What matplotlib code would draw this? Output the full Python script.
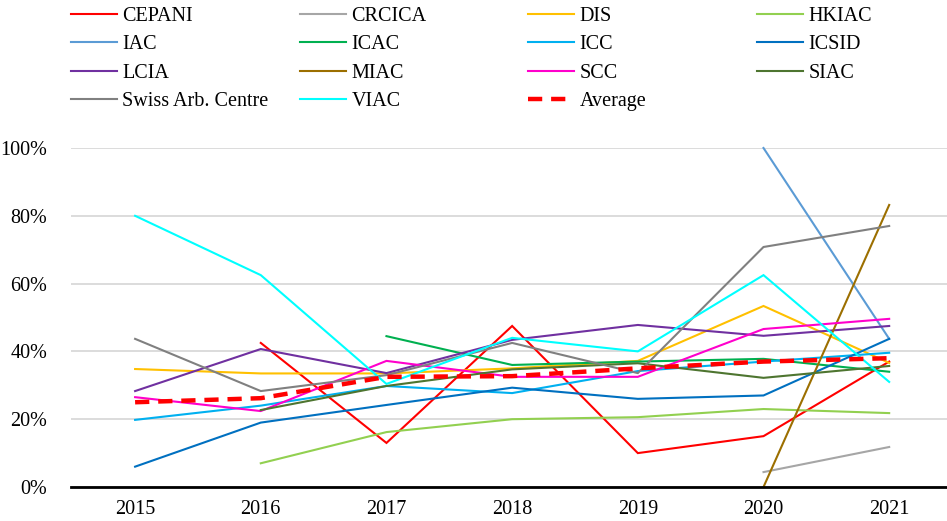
import numpy as np
import matplotlib
matplotlib.use("Agg")
import matplotlib.pyplot as plt
from matplotlib.ticker import PercentFormatter

nan = np.nan

# years on the x axis
years = [2015, 2016, 2017, 2018, 2019, 2020, 2021]

# share per institution (fraction)
cepani = [nan, 0.425, 0.13, 0.475, 0.10, 0.15, 0.37]
crcica = [nan, nan, nan, nan, nan, 0.044, 0.118]
dis = [0.348, 0.335, 0.335, 0.35, 0.372, 0.534, 0.366]
hkiac = [nan, 0.07, 0.162, 0.20, 0.206, 0.23, 0.218]
iac = [nan, nan, nan, nan, nan, 1.00, 0.437]
icac = [nan, nan, 0.445, 0.36, 0.37, 0.378, 0.34]
icc = [0.198, 0.24, 0.298, 0.277, 0.342, 0.37, 0.396]
icsid = [0.06, 0.19, 0.242, 0.293, 0.26, 0.27, 0.437]
lcia = [0.283, 0.407, 0.336, 0.434, 0.478, 0.446, 0.475]
miac = [nan, nan, nan, nan, nan, 0.0, 0.832]
scc = [0.265, 0.224, 0.372, 0.325, 0.325, 0.466, 0.496]
siac = [nan, 0.227, 0.298, 0.347, 0.365, 0.322, 0.357]
swiss = [0.437, 0.283, 0.33, 0.425, 0.336, 0.708, 0.77]
viac = [0.80, 0.625, 0.304, 0.44, 0.40, 0.625, 0.31]
average = [0.25, 0.262, 0.325, 0.327, 0.35, 0.37, 0.38]

series = [
    ("CEPANI", cepani, "#FF0000"),
    ("CRCICA", crcica, "#A6A6A6"),
    ("DIS", dis, "#FFC000"),
    ("HKIAC", hkiac, "#92D050"),
    ("IAC", iac, "#5B9BD5"),
    ("ICAC", icac, "#00B050"),
    ("ICC", icc, "#00B0F0"),
    ("ICSID", icsid, "#0070C0"),
    ("LCIA", lcia, "#7030A0"),
    ("MIAC", miac, "#9C6F00"),
    ("SCC", scc, "#FF00CC"),
    ("SIAC", siac, "#4E7530"),
    ("Swiss Arb. Centre", swiss, "#808080"),
    ("VIAC", viac, "#00FFFF"),
]

plt.rcParams['font.family'] = ['Liberation Serif', 'DejaVu Serif']
plt.rcParams['font.size'] = 14.5

W, H = 947, 521
fig = plt.figure(figsize=(W / 100, H / 100), dpi=100)
ax = fig.add_axes([71 / W, (H - 487) / H, (W - 71) / W, (487 - 148) / H])

handles = []
for name, vals, col in series:
    ln, = ax.plot(years, vals, color=col, lw=1.5, label=name, clip_on=False,
                  solid_joinstyle='miter')
    handles.append(ln)
avg, = ax.plot(years, average, color="#FF0000", lw=3.2, dashes=(3.2, 2.0),
               label="Average", zorder=5, clip_on=False)
handles.append(avg)

ax.set_xlim(2014.49, 2021.46)
ax.set_ylim(0, 1)
ax.set_xticks(years)
ax.set_yticks(np.arange(0, 1.01, 0.2))
ax.yaxis.set_major_formatter(PercentFormatter(1.0, decimals=0))
ax.tick_params(length=0, pad=9)
ax.tick_params(axis='y', pad=17)
ax.grid(axis='y', color="#D9D9D9", lw=1.3)
ax.set_axisbelow(True)
for s in ['top', 'right', 'left']:
    ax.spines[s].set_visible(False)
ax.spines['bottom'].set_linewidth(2.0)
ax.spines['bottom'].set_color('black')
ax.spines['bottom'].set_zorder(6)

# legend laid out like Excel: 4 equal columns, filled row by row
col_x = [71, 300, 528, 757]
for c in range(4):
    hs = handles[c::4]
    fig.legend(handles=hs, labels=[h.get_label() for h in hs],
               loc='upper left', bbox_to_anchor=(col_x[c] / W, 1 - 7 / H),
               frameon=False, borderpad=0, borderaxespad=0,
               handlelength=2.3, handletextpad=0.25, labelspacing=0.46)

fig.savefig("out.png", dpi=100)
